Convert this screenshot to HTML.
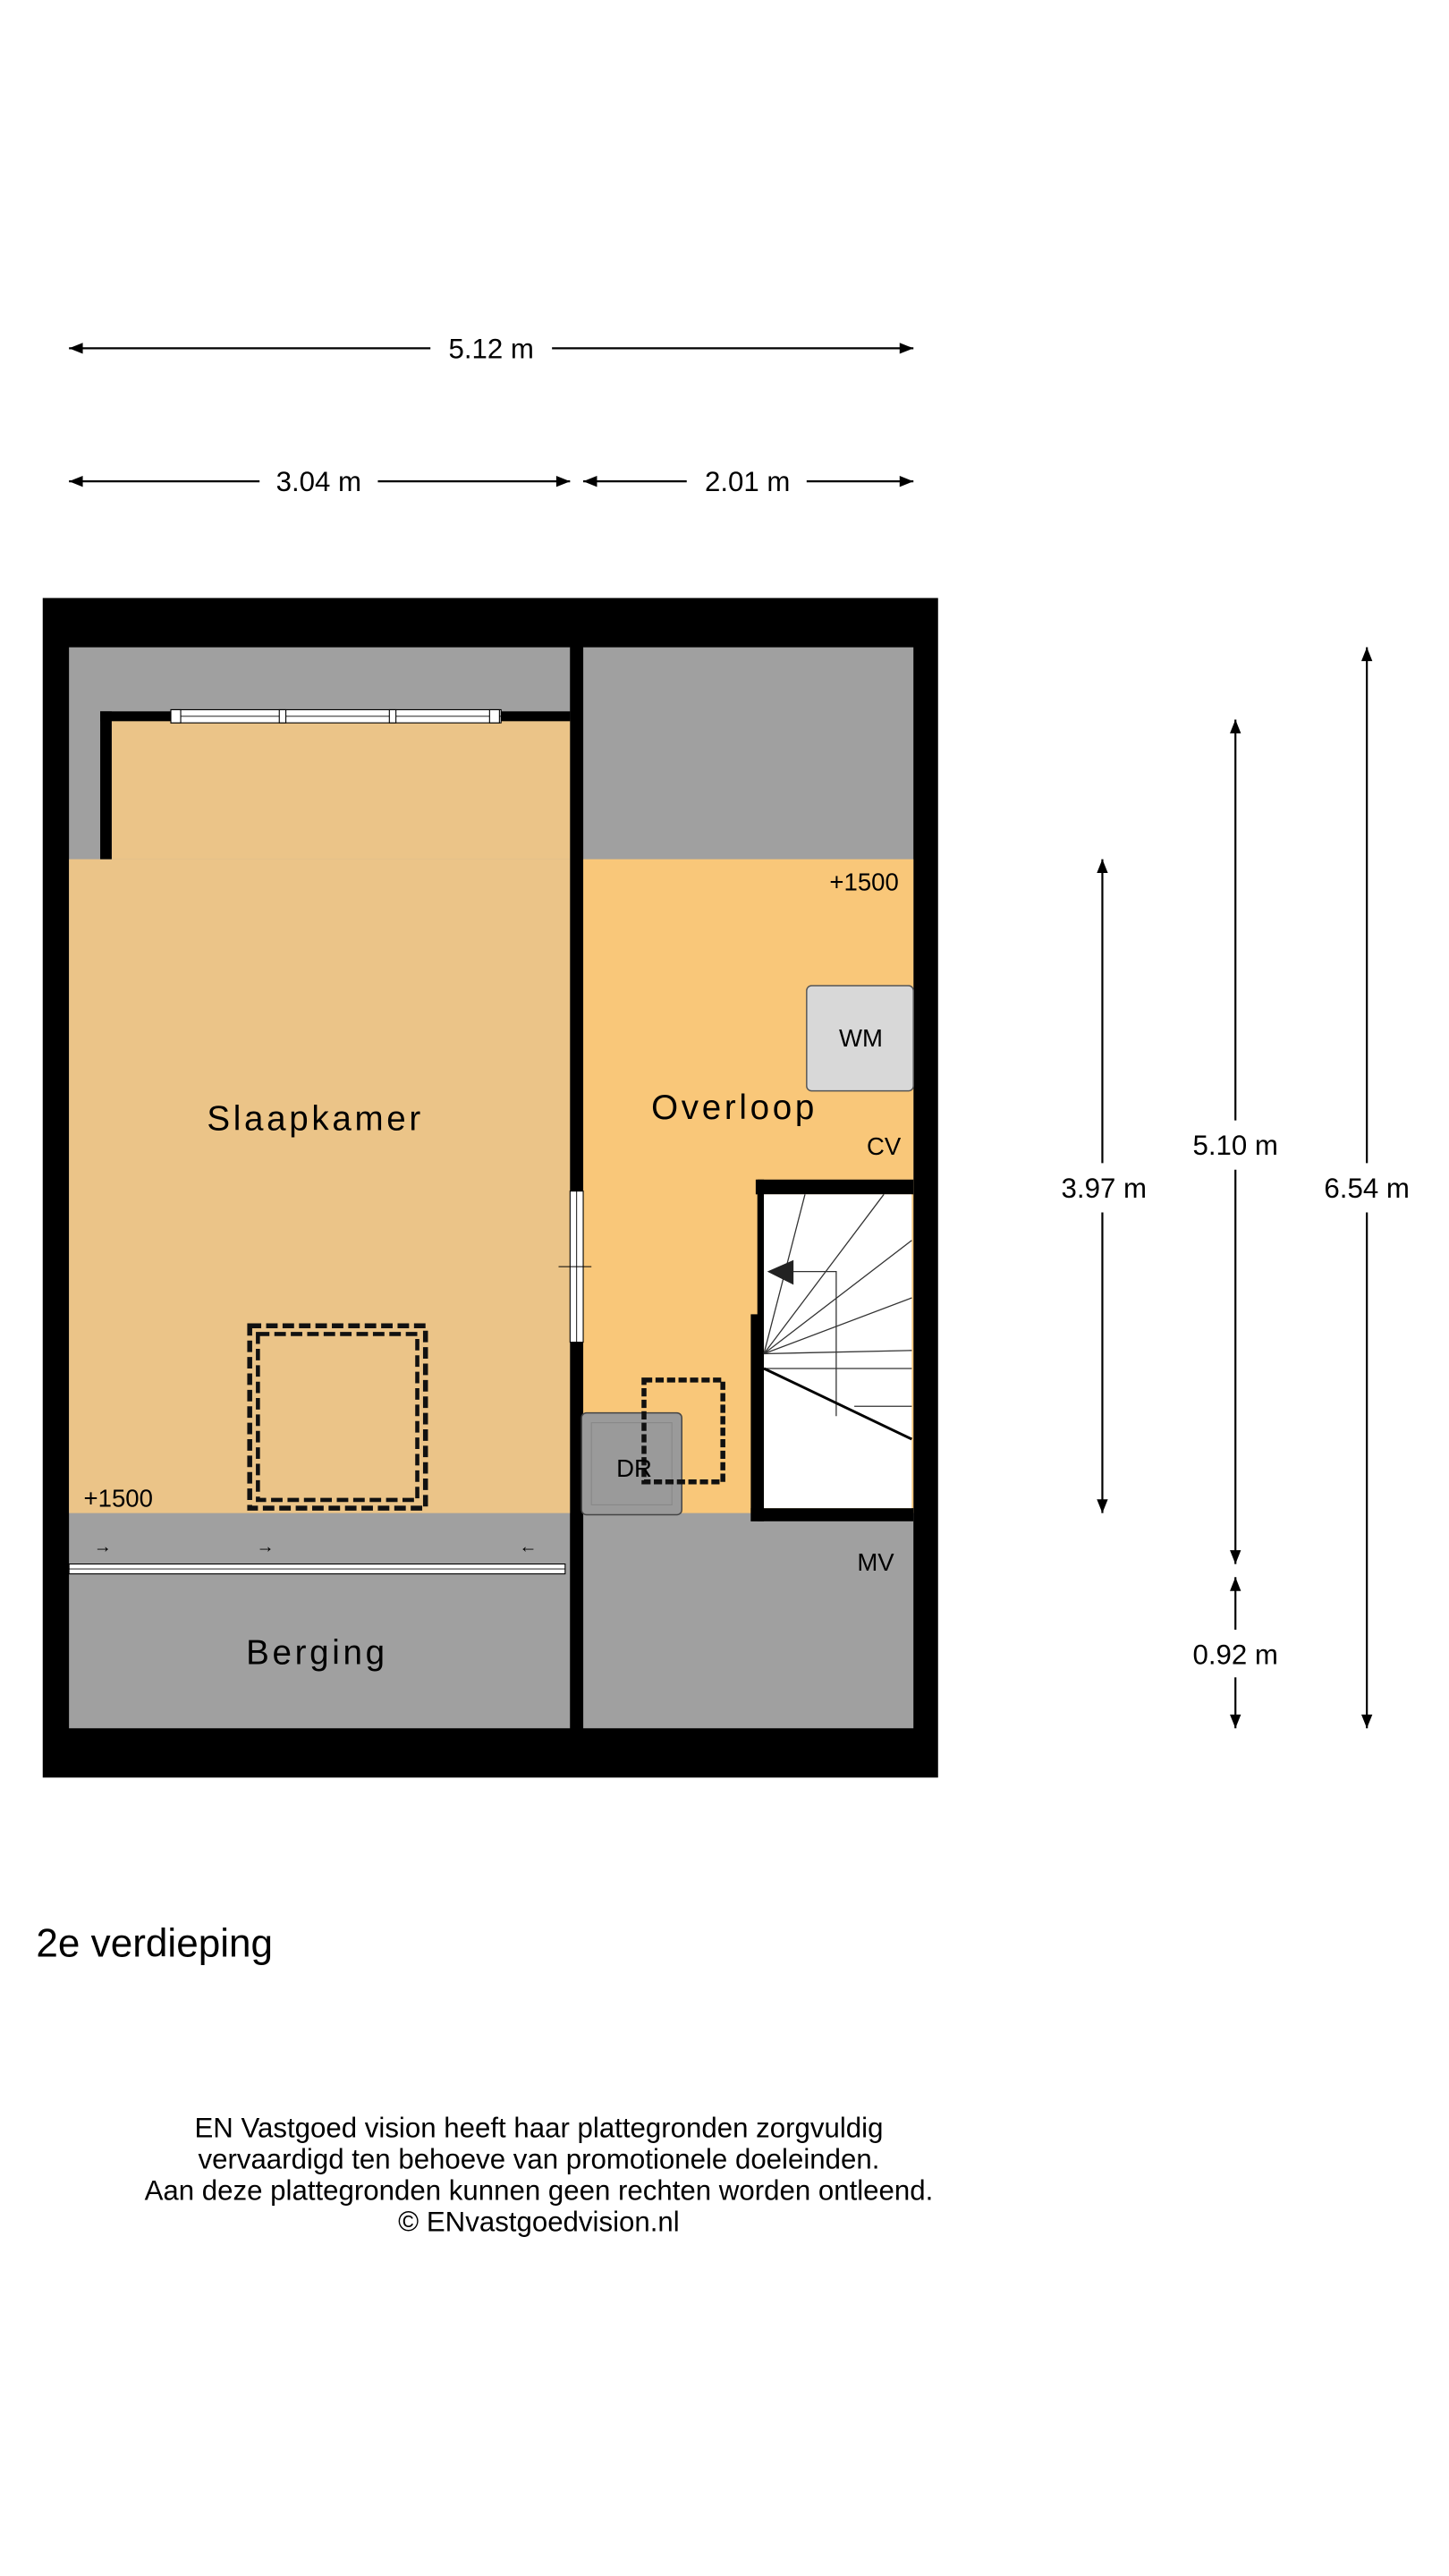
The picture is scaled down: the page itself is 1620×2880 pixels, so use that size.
<!DOCTYPE html>
<html><head><meta charset="utf-8"><style>html,body{margin:0;padding:0;background:#fff}svg{display:block}</style></head>
<body>
<svg width="1620" height="2880" viewBox="0 0 882 1568" xmlns="http://www.w3.org/2000/svg" font-family="Liberation Sans, sans-serif">
<defs>
<marker id="a" viewBox="0 0 10 10" refX="10" refY="5" markerWidth="9" markerHeight="7" orient="auto-start-reverse"><path d="M0,1 L10,5 L0,9 z" fill="#000"/></marker>
</defs>
<g stroke="#000" stroke-width="1.2" fill="none">
<line x1="42" y1="212" x2="262" y2="212" marker-start="url(#a)"/><line x1="336" y1="212" x2="556" y2="212" marker-end="url(#a)"/>
<line x1="42" y1="293" x2="158" y2="293" marker-start="url(#a)"/><line x1="230" y1="293" x2="347" y2="293" marker-end="url(#a)"/>
<line x1="355" y1="293" x2="418" y2="293" marker-start="url(#a)"/><line x1="491" y1="293" x2="556" y2="293" marker-end="url(#a)"/>
<line x1="671" y1="523" x2="671" y2="708" marker-start="url(#a)"/><line x1="671" y1="738" x2="671" y2="921" marker-end="url(#a)"/>
<line x1="752" y1="438" x2="752" y2="682" marker-start="url(#a)"/><line x1="752" y1="712" x2="752" y2="952" marker-end="url(#a)"/>
<line x1="752" y1="960" x2="752" y2="992" marker-start="url(#a)"/><line x1="752" y1="1021" x2="752" y2="1052" marker-end="url(#a)"/>
<line x1="832" y1="394" x2="832" y2="708" marker-start="url(#a)"/><line x1="832" y1="738" x2="832" y2="1052" marker-end="url(#a)"/>
</g>
<g font-size="17" text-anchor="middle" fill="#000">
<text x="299" y="218">5.12 m</text><text x="194" y="299">3.04 m</text><text x="455" y="299">2.01 m</text>
<text x="672" y="729">3.97 m</text><text x="752" y="703">5.10 m</text><text x="832" y="729">6.54 m</text><text x="752" y="1013">0.92 m</text>
</g>
<rect x="26" y="364" width="545" height="718" fill="#000"/>
<rect x="42" y="394" width="305" height="658" fill="#a0a0a0"/>
<rect x="355" y="394" width="201" height="658" fill="#a0a0a0"/>
<rect x="68" y="438" width="279" height="85" fill="#ebc488"/>
<rect x="42" y="523" width="305" height="398" fill="#ebc488"/>
<rect x="355" y="523" width="201" height="398" fill="#f9c779"/>
<rect x="61" y="433" width="286" height="6" fill="#000"/>
<rect x="61" y="433" width="7" height="90" fill="#000"/>
<rect x="347" y="394" width="8" height="658" fill="#000"/>
<rect x="104" y="432" width="201" height="8" fill="#fff" stroke="#000" stroke-width="0.6"/>
<line x1="104" y1="436" x2="305" y2="436" stroke="#000" stroke-width="0.5"/>
<rect x="104" y="432" width="6" height="8" fill="#fff" stroke="#000" stroke-width="0.6"/>
<rect x="170" y="432" width="4" height="8" fill="#fff" stroke="#000" stroke-width="0.6"/>
<rect x="237" y="432" width="4" height="8" fill="#fff" stroke="#000" stroke-width="0.6"/>
<rect x="298" y="432" width="6" height="8" fill="#fff" stroke="#000" stroke-width="0.6"/>
<rect x="347" y="725" width="8" height="92" fill="#fff" stroke="#000" stroke-width="0.6"/>
<line x1="351" y1="725" x2="351" y2="817" stroke="#000" stroke-width="0.5"/>
<line x1="340" y1="771" x2="360" y2="771" stroke="#000" stroke-width="0.6"/>
<rect x="42" y="952" width="302" height="6" fill="#fff" stroke="#000" stroke-width="0.6"/>
<line x1="42" y1="955" x2="344" y2="955" stroke="#000" stroke-width="0.5"/>
<g font-size="11" fill="#000"><text x="57" y="945">→</text><text x="156" y="945">→</text><text x="316" y="945">←</text></g>
<rect x="460" y="718" width="96" height="9" fill="#000"/>
<rect x="461" y="718" width="4" height="208" fill="#000"/>
<rect x="457" y="800" width="8" height="126" fill="#000"/>
<rect x="457" y="918" width="99" height="8" fill="#000"/>
<rect x="465" y="727" width="90" height="191" fill="#fff"/>
<g stroke="#333" stroke-width="0.7" fill="none">
<line x1="465" y1="824" x2="490" y2="727"/><line x1="465" y1="824" x2="538" y2="727"/>
<line x1="465" y1="824" x2="555" y2="755"/><line x1="465" y1="824" x2="555" y2="790"/>
<line x1="465" y1="824" x2="555" y2="822"/><line x1="465" y1="833" x2="555" y2="833"/>
<line x1="520" y1="856" x2="555" y2="856"/>
<polyline points="482,774 509,774 509,862"/>
</g>
<line x1="465" y1="833" x2="555" y2="876" stroke="#000" stroke-width="1.6"/>
<path d="M467,774 L483,767 L483,782 z" fill="#222"/>
<rect x="491" y="600" width="65" height="64" rx="3" fill="#d8d8d8" stroke="#555" stroke-width="0.8"/>
<rect x="354" y="860" width="61" height="62" rx="3" fill="#9a9a9a" stroke="#444" stroke-width="0.8"/>
<rect x="360" y="866" width="49" height="50" fill="none" stroke="#888" stroke-width="0.6"/>
<rect x="392" y="840" width="48" height="62" fill="none" stroke="#111" stroke-width="3" stroke-dasharray="5,2"/>
<rect x="152" y="807" width="107" height="111" fill="none" stroke="#111" stroke-width="3" stroke-dasharray="7,3"/>
<rect x="157" y="812" width="97" height="101" fill="none" stroke="#111" stroke-width="2.5" stroke-dasharray="7,3"/>
<g fill="#000" text-anchor="middle">
<text x="192" y="688" font-size="21" letter-spacing="2">Slaapkamer</text>
<text x="447" y="681" font-size="21" letter-spacing="2">Overloop</text>
<text x="193" y="1013" font-size="21" letter-spacing="2">Berging</text>
<text x="524" y="637" font-size="15">WM</text>
<text x="538" y="703" font-size="15">CV</text>
<text x="533" y="956" font-size="15">MV</text>
<text x="386" y="899" font-size="15">DR</text>
<text x="526" y="542" font-size="15">+1500</text>
<text x="72" y="917" font-size="15">+1500</text>
</g>
<text x="22" y="1191" font-size="24" fill="#000">2e verdieping</text>
<g font-size="17" fill="#000" text-anchor="middle">
<text x="328" y="1301">EN Vastgoed vision heeft haar plattegronden zorgvuldig</text>
<text x="328" y="1320">vervaardigd ten behoeve van promotionele doeleinden.</text>
<text x="328" y="1339">Aan deze plattegronden kunnen geen rechten worden ontleend.</text>
<text x="328" y="1358">© ENvastgoedvision.nl</text>
</g>
</svg>
</body></html>
